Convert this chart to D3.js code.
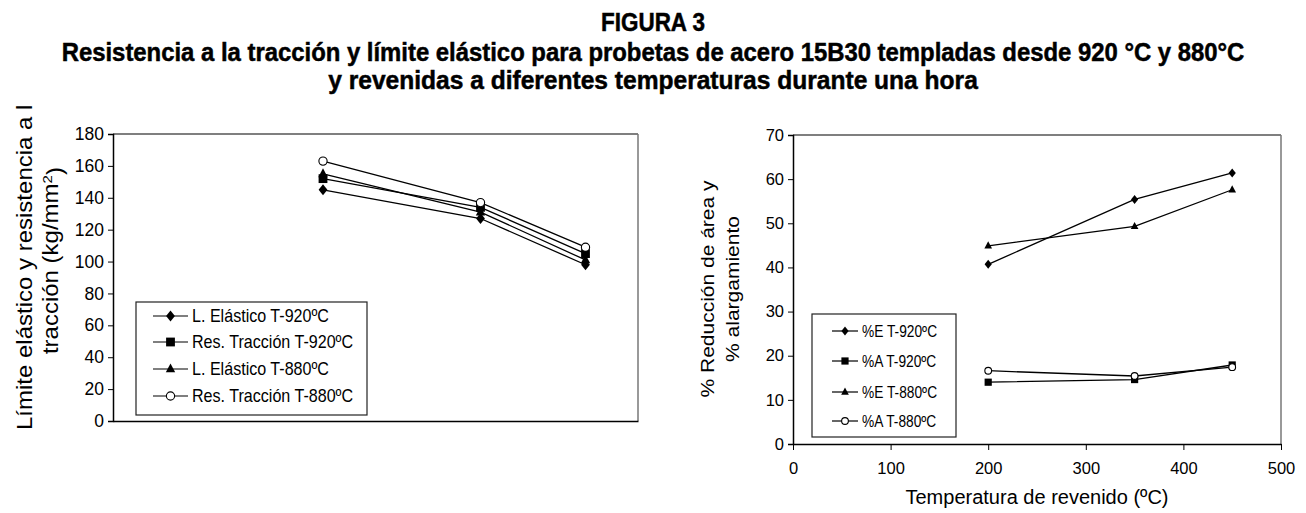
<!DOCTYPE html>
<html><head><meta charset="utf-8">
<script src="https://cdn.jsdelivr.net/npm/d3@7"></script>
<style>
html,body{margin:0;padding:0;background:#fff;}
svg{display:block;}
text{font-family:"Liberation Sans",Arial,sans-serif;fill:#000;}
</style></head>
<body>
<svg id="chart" width="1306" height="513"></svg>
<script>
// ---------- data ----------
const titleLines = ["FIGURA 3",
  "Resistencia a la tracción y límite elástico para probetas de acero 15B30 templadas desde 920 °C y 880°C",
  "y revenidas a diferentes temperaturas durante una hora"];
const temps = [200, 350, 450];
// left chart (kg/mm²)
const leftNames = ["L. Elástico T-920ºC","Res. Tracción T-920ºC","L. Elástico T-880ºC","Res. Tracción T-880ºC"];
const leTemp920 = [145, 127, 98];
const rtTemp920 = [152, 134, 105];
const leTemp880 = [155, 131, 101];
const rtTemp880 = [163, 137, 109];
const leftTicks = [0,20,40,60,80,100,120,140,160,180];
// right chart (%)
const rightNames = ["%E T-920ºC","%A T-920ºC","%E T-880ºC","%A T-880ºC"];
const e920 = [40.7, 55.4, 61.4];
const a920 = [14.0, 14.6, 17.9];
const e880 = [44.9, 49.3, 57.6];
const a880 = [16.6, 15.4, 17.4];
const rightYTicks = [0,10,20,30,40,50,60,70];
const rightXTicks = [0,100,200,300,400,500];
const markers = ["diamond","square","triangle","circle"];

const svg = d3.select("#chart");

// ---------- title ----------
const tl = [{y:31, w:104, fs:26},{y:61, w:1183, fs:26},{y:89, w:650, fs:26}];
titleLines.forEach((t,i)=>{
  const el = svg.append("text")
    .attr("text-anchor","middle")
    .style("font-family","'Liberation Sans Narrow','Liberation Sans',Arial,sans-serif")
    .style("font-weight","bold").style("font-size",tl[i].fs+"px")
    .attr("stroke","#000").attr("stroke-width",0.5)
    .text(t);
  const nat = el.node().getComputedTextLength();
  el.attr("transform",`translate(653,${tl[i].y}) scale(${tl[i].w/nat},1)`);
});

function marker(g, type, x, y, s){
  if(type==="diamond"){
    g.append("path").attr("d",`M${x},${y-s}L${x+s*0.8},${y}L${x},${y+s}L${x-s*0.8},${y}Z`).attr("fill","#000");
  } else if(type==="square"){
    g.append("rect").attr("x",x-s*0.8).attr("y",y-s*0.8).attr("width",s*1.6).attr("height",s*1.6).attr("fill","#000");
  } else if(type==="triangle"){
    g.append("path").attr("d",`M${x},${y-s}L${x+s*0.85},${y+s*0.6}L${x-s*0.85},${y+s*0.6}Z`).attr("fill","#000");
  } else {
    g.append("circle").attr("cx",x).attr("cy",y).attr("r",s*0.75).attr("fill","#fff").attr("stroke","#000").attr("stroke-width",1.1);
  }
}

function drawChart(opt){
  const x = d3.scaleLinear().domain([0,500]).range([opt.x0,opt.x1]);
  const y = d3.scaleLinear().domain(opt.ydom).range([opt.y1,opt.y0]);
  const g = svg.append("g");
  // plot border
  g.append("line").attr("x1",opt.x0).attr("x2",opt.x1).attr("y1",opt.y0).attr("y2",opt.y0).attr("stroke","#000").attr("stroke-width",1.2);
  g.append("line").attr("x1",opt.x1).attr("x2",opt.x1).attr("y1",opt.y0).attr("y2",opt.y1).attr("stroke","#777").attr("stroke-width",1.5);
  // y axis
  const ya = g.append("g").attr("transform",`translate(${opt.x0},0)`)
    .call(d3.axisLeft(y).tickValues(opt.yticks).tickSize(5).tickPadding(4).tickFormat(d3.format("d")));
  ya.select(".domain").attr("stroke","#000").attr("stroke-width",1.5);
  ya.selectAll(".tick line").attr("stroke","#000");
  ya.selectAll(".tick text").style("font-family","'Liberation Sans',Arial,sans-serif").style("font-size",opt.tfs+"px").attr("fill","#000");
  // x axis
  const xa = g.append("g").attr("transform",`translate(0,${opt.y1})`)
    .call(d3.axisBottom(x).tickValues(opt.xticks).tickSize(opt.xticks.length?6:0).tickPadding(12).tickSizeOuter(0).tickFormat(d3.format("d")));
  xa.select(".domain").attr("stroke","#000").attr("stroke-width",1.5);
  xa.selectAll(".tick line").attr("stroke","#000");
  xa.selectAll(".tick text").style("font-family","'Liberation Sans',Arial,sans-serif").style("font-size",opt.tfs+"px").attr("fill","#000");
  // series
  const line = d3.line().x((d,i)=>x(temps[i])).y(d=>y(d));
  opt.series.forEach((s,k)=>{
    g.append("path").attr("d",line(s)).attr("fill","none").attr("stroke","#000").attr("stroke-width",1.3);
  });
  opt.series.forEach((s,k)=>{
    s.forEach((v,i)=>marker(g, markers[k], x(temps[i]), y(v), opt.ms));
  });
  // legend
  const L = opt.legend;
  g.append("rect").attr("x",L.x).attr("y",L.y).attr("width",L.w).attr("height",L.h)
    .attr("fill","#fff").attr("stroke","#222").attr("stroke-width",1.2);
  opt.names.forEach((n,k)=>{
    const ry = L.rows[k];
    g.append("line").attr("x1",L.lx0).attr("x2",L.lx1).attr("y1",ry).attr("y2",ry).attr("stroke","#000").attr("stroke-width",1.2);
    marker(g, markers[k], (L.lx0+L.lx1)/2, ry, opt.lms);
    g.append("text").attr("transform",`translate(${L.tx},${ry}) scale(${L.sx},1)`).attr("dy","0.36em")
      .style("font-size",L.fs+"px").text(n);
  });
  return {x,y,g};
}

// left chart
drawChart({x0:113,x1:638,y0:134,y1:421,ydom:[0,180],yticks:leftTicks,xticks:[],tfs:17.5,
  series:[leTemp920,rtTemp920,leTemp880,rtTemp880],names:leftNames,ms:5.5,lms:5.5,
  legend:{x:136,y:302,w:231,h:113,rows:[316,342,369,396],lx0:153,lx1:188,tx:192,fs:17.5,sx:0.92}});

// right chart
drawChart({x0:793,x1:1281,y0:135,y1:444,ydom:[0,70],yticks:rightYTicks,xticks:rightXTicks,tfs:16.5,
  series:[e920,a920,e880,a880],names:rightNames,ms:4.5,lms:4.5,
  legend:{x:812,y:314,w:144,h:123,rows:[331,361,392,421],lx0:832,lx1:858,tx:862,fs:16,sx:0.86}});

// axis titles
// left (clipped at top, as in the reference)
const clip = svg.append("defs").append("clipPath").attr("id","lclip");
clip.append("rect").attr("x",0).attr("y",106).attr("width",70).attr("height",407);
const lt = svg.append("g").attr("clip-path","url(#lclip)");
const l1 = lt.append("text").attr("transform","translate(32,430) rotate(-90) scale(1,0.9)")
  .attr("text-anchor","start").style("font-size","24px").text("Límite elástico y resistencia a la");
const len1 = l1.node().getComputedTextLength();
const cy = 430 - len1/2;
const l2 = lt.append("text").attr("transform",`translate(58,${cy}) rotate(-90) scale(1,0.9)`)
  .attr("text-anchor","middle").style("font-size","24px");
l2.append("tspan").text("tracción (kg/mm");
l2.append("tspan").attr("dy","-0.45em").style("font-size","15px").text("2");
l2.append("tspan").attr("dy","0.45em").text(")");

// right y title
svg.append("text").attr("transform","translate(714,289) rotate(-90) scale(1,0.9)")
  .attr("text-anchor","middle").style("font-size","21px").text("% Reducción de área y");
svg.append("text").attr("transform","translate(739,289) rotate(-90) scale(1,0.9)")
  .attr("text-anchor","middle").style("font-size","21px").text("% alargamiento");
// right x title
svg.append("text").attr("x",1037).attr("y",504).attr("text-anchor","middle")
  .style("font-size","20px").text("Temperatura de revenido (ºC)");
</script>
</body></html>
